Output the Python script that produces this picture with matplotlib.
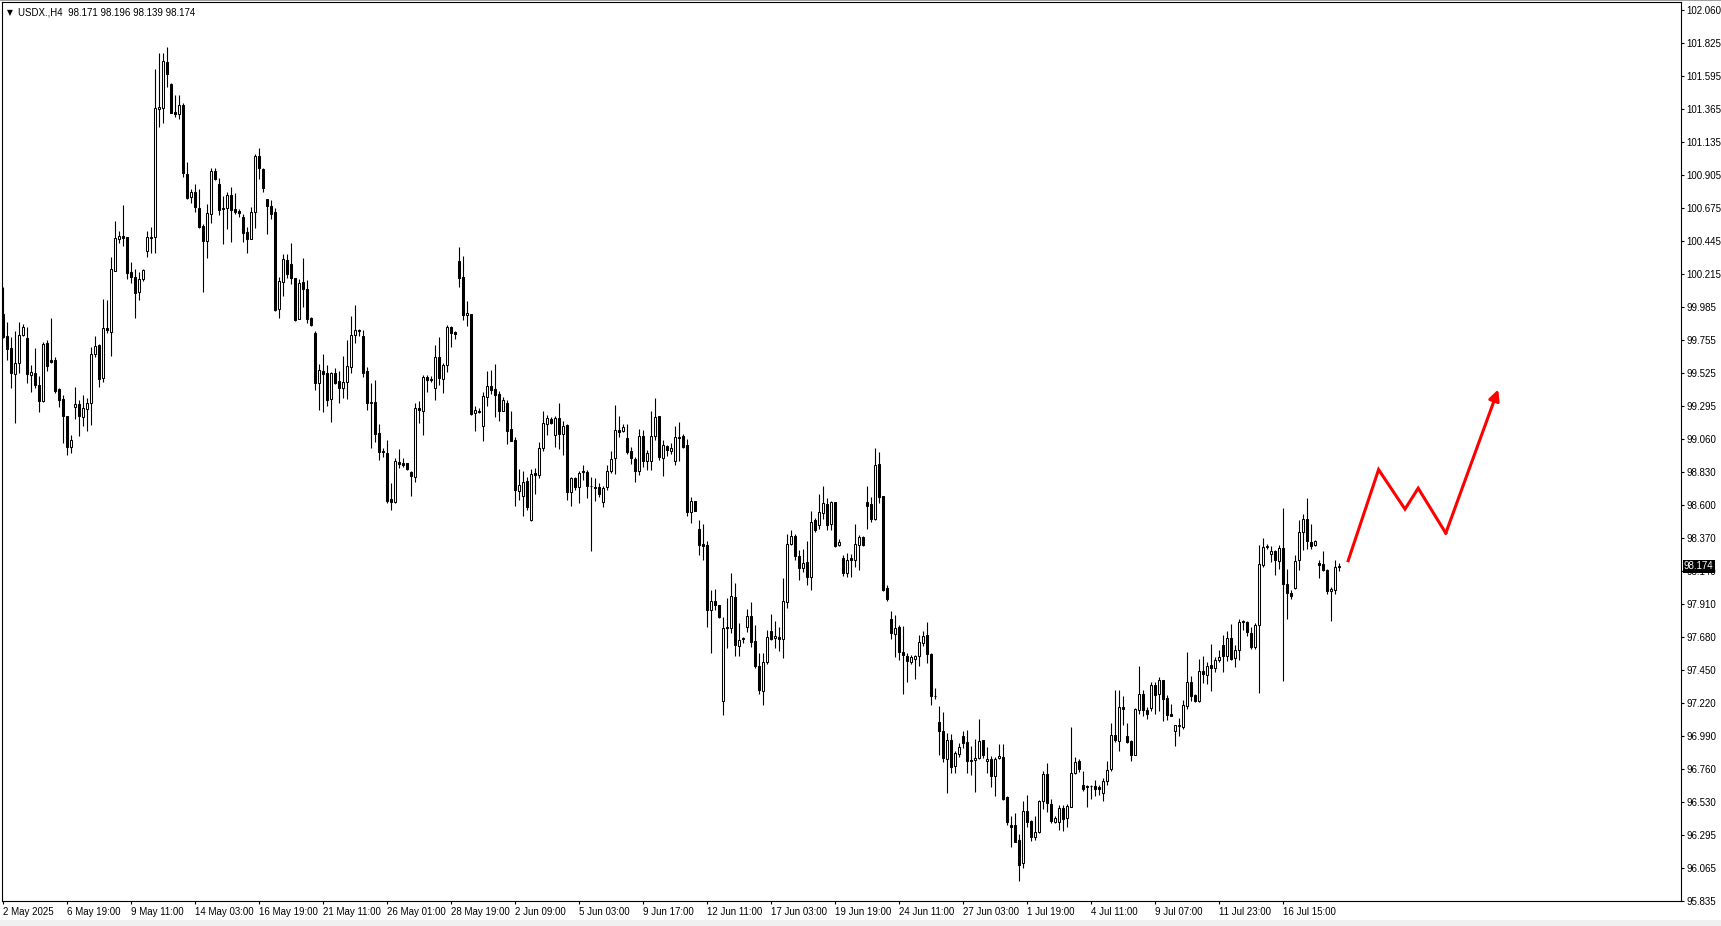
import numpy as np
import matplotlib
matplotlib.use("Agg")
import matplotlib.pyplot as plt
import matplotlib.transforms as mtransforms
from matplotlib.patches import Rectangle

plt.rcParams['font.family'] = ['Liberation Sans', 'DejaVu Sans']

#
# USDX H4 CANDLES
#
opens = [
    99.936, 99.783, 99.697, 99.515, 99.592, 99.790, 99.766, 99.508, 99.527, 99.441,
    99.331, 99.732, 99.613, 99.615, 99.413, 99.340, 99.224, 99.010, 99.289, 99.308,
    99.219, 99.270, 99.312, 99.655, 99.720, 99.492, 99.836, 99.813, 100.239, 100.463,
    100.479, 100.477, 100.227, 100.192, 100.088, 100.178, 100.379, 100.472, 100.477, 101.368,
    101.373, 101.694, 101.543, 101.350, 101.333, 101.394, 100.912, 100.756, 100.791, 100.674,
    100.554, 100.447, 100.633, 100.936, 100.842, 100.679, 100.675, 100.768, 100.670, 100.654,
    100.614, 100.510, 100.463, 100.652, 101.043, 100.950, 100.740, 100.691, 100.649, 99.969,
    100.163, 100.314, 100.286, 100.186, 99.900, 100.163, 100.111, 99.910, 99.806, 99.453,
    99.539, 99.527, 99.341, 99.527, 99.469, 99.418, 99.464, 99.569, 99.790, 99.814,
    99.783, 99.539, 99.322, 99.322, 99.103, 98.980, 98.964, 98.645, 98.620, 98.899,
    98.894, 98.894, 98.831, 98.797, 99.281, 99.255, 99.495, 99.481, 99.418, 99.635,
    99.481, 99.579, 99.844, 99.807, 100.307, 100.193, 99.926, 99.935, 99.241, 99.258,
    99.157, 99.355, 99.432, 99.413, 99.376, 99.260, 99.316, 99.132, 99.057, 98.703,
    98.662, 98.766, 98.499, 98.827, 98.808, 98.999, 99.167, 99.202, 99.090, 99.213,
    99.099, 99.162, 98.696, 98.790, 98.724, 98.840, 98.833, 98.736, 98.726, 98.726,
    98.621, 98.724, 98.836, 98.929, 99.127, 99.122, 99.068, 98.980, 98.924, 98.836,
    99.085, 98.912, 98.912, 99.087, 99.224, 98.933, 99.015, 98.982, 98.912, 99.080,
    99.085, 99.022, 98.556, 98.631, 98.435, 98.326, 98.319, 97.869, 97.932, 97.904,
    97.229, 97.748, 97.739, 97.958, 97.620, 97.674, 97.748, 97.828, 97.653, 97.474,
    97.299, 97.502, 97.723, 97.670, 97.679, 97.665, 97.921, 98.331, 98.387, 98.247,
    98.165, 98.200, 98.098, 98.498, 98.463, 98.545, 98.608, 98.468, 98.622, 98.319,
    98.231, 98.126, 98.231, 98.219, 98.324, 98.377, 98.622, 98.610, 98.503, 98.887,
    98.666, 98.021, 97.805, 97.700, 97.749, 97.574, 97.548, 97.502, 97.525, 97.544,
    97.637, 97.695, 97.562, 97.264, 97.085, 97.025, 96.827, 96.962, 96.776, 96.865,
    96.986, 96.946, 96.823, 96.818, 96.834, 96.962, 96.811, 96.830, 96.706, 96.834,
    96.844, 96.560, 96.369, 96.364, 96.264, 96.101, 96.466, 96.397, 96.280, 96.315,
    96.532, 96.725, 96.513, 96.385, 96.387, 96.485, 96.415, 96.490, 96.730, 96.816,
    96.648, 96.641, 96.636, 96.636, 96.632, 96.590, 96.671, 96.755, 96.997, 96.951,
    97.191, 96.990, 96.955, 96.853, 97.172, 97.281, 97.172, 97.183, 97.346, 97.281,
    97.381, 97.253, 97.144, 97.020, 97.055, 97.048, 97.195, 97.365, 97.276, 97.230,
    97.444, 97.411, 97.486, 97.463, 97.516, 97.625, 97.544, 97.672, 97.532, 97.586,
    97.784, 97.784, 97.707, 97.607, 97.765, 98.180, 98.308, 98.259, 98.277, 98.212,
    98.301, 98.049, 97.986, 98.021, 98.215, 98.412, 98.503, 98.343, 98.324, 98.196,
    98.189, 98.149, 97.998, 98.005, 98.171,
]

highs = [
    100.127, 99.883, 99.778, 99.818, 99.883, 99.867, 99.848, 99.580, 99.697, 99.503,
    99.743, 99.755, 99.911, 99.634, 99.417, 99.371, 99.224, 99.091, 99.429, 99.336,
    99.371, 99.347, 99.708, 99.783, 99.727, 100.039, 100.034, 100.337, 100.586, 100.518,
    100.698, 100.477, 100.302, 100.248, 100.232, 100.253, 100.516, 100.542, 101.645, 101.757,
    101.762, 101.803, 101.552, 101.466, 101.466, 101.408, 100.996, 100.809, 100.844, 100.809,
    100.563, 100.703, 100.954, 100.954, 100.889, 100.763, 100.787, 100.822, 100.780, 100.670,
    100.633, 100.547, 100.686, 101.052, 101.099, 100.954, 100.740, 100.733, 100.679, 100.198,
    100.356, 100.356, 100.435, 100.191, 100.179, 100.330, 100.174, 99.917, 99.818, 99.585,
    99.655, 99.581, 99.534, 99.557, 99.539, 99.644, 99.755, 99.923, 100.000, 99.832,
    99.825, 99.569, 99.457, 99.476, 99.166, 98.999, 99.057, 98.755, 98.929, 98.992,
    98.929, 98.894, 98.841, 99.313, 99.330, 99.511, 99.511, 99.500, 99.721, 99.774,
    99.597, 99.860, 99.849, 99.814, 100.403, 100.342, 100.028, 99.935, 99.290, 99.278,
    99.390, 99.539, 99.546, 99.588, 99.395, 99.353, 99.337, 99.260, 99.074, 98.852,
    98.836, 98.794, 98.852, 98.859, 99.041, 99.260, 99.232, 99.220, 99.225, 99.313,
    99.190, 99.167, 98.794, 98.794, 98.841, 98.882, 98.847, 98.794, 98.789, 98.754,
    98.731, 98.882, 98.982, 99.301, 99.224, 99.166, 99.169, 99.006, 98.940, 99.131,
    99.127, 98.987, 99.259, 99.348, 99.224, 99.057, 99.022, 99.038, 99.155, 99.180,
    99.099, 99.061, 98.661, 98.631, 98.498, 98.470, 98.347, 98.009, 98.016, 97.904,
    97.818, 97.951, 98.126, 98.060, 97.776, 97.679, 97.874, 97.923, 97.765, 97.567,
    97.567, 97.730, 97.842, 97.788, 97.746, 98.091, 98.401, 98.428, 98.401, 98.289,
    98.293, 98.352, 98.563, 98.510, 98.680, 98.736, 98.650, 98.633, 98.626, 98.363,
    98.254, 98.265, 98.258, 98.470, 98.389, 98.382, 98.731, 98.657, 98.999, 98.969,
    98.666, 98.044, 97.863, 97.830, 97.765, 97.758, 97.567, 97.555, 97.555, 97.695,
    97.718, 97.784, 97.567, 97.323, 97.199, 97.155, 97.008, 97.004, 96.880, 96.939,
    97.025, 97.032, 96.920, 96.969, 97.109, 96.962, 96.909, 96.846, 96.839, 96.932,
    96.932, 96.567, 96.427, 96.450, 96.304, 96.536, 96.574, 96.399, 96.432, 96.539,
    96.741, 96.799, 96.550, 96.427, 96.508, 96.508, 96.513, 97.049, 96.839, 96.830,
    96.746, 96.648, 96.648, 96.683, 96.643, 96.695, 96.811, 97.079, 97.312, 97.312,
    97.270, 97.079, 96.962, 97.184, 97.479, 97.312, 97.188, 97.362, 97.362, 97.397,
    97.381, 97.276, 97.211, 97.067, 97.113, 97.241, 97.574, 97.409, 97.283, 97.528,
    97.549, 97.504, 97.632, 97.539, 97.591, 97.695, 97.719, 97.770, 97.626, 97.805,
    97.800, 97.793, 97.749, 97.777, 98.324, 98.370, 98.331, 98.317, 98.289, 98.324,
    98.580, 98.154, 98.010, 98.254, 98.498, 98.540, 98.650, 98.471, 98.359, 98.219,
    98.282, 98.156, 98.028, 98.219, 98.196,
]

lows = [
    99.766, 99.615, 99.417, 99.177, 99.522, 99.783, 99.457, 99.394, 99.417, 99.254,
    99.324, 99.541, 99.592, 99.382, 99.289, 99.038, 98.952, 98.968, 99.201, 99.084,
    99.154, 99.122, 99.161, 99.638, 99.424, 99.464, 99.801, 99.643, 100.239, 100.435,
    100.414, 100.181, 100.155, 99.906, 100.034, 100.169, 100.332, 100.360, 100.360, 101.240,
    101.273, 101.524, 101.338, 101.315, 101.301, 100.891, 100.742, 100.714, 100.651, 100.535,
    100.088, 100.330, 100.570, 100.873, 100.628, 100.423, 100.528, 100.437, 100.633, 100.617,
    100.442, 100.361, 100.463, 100.535, 100.877, 100.787, 100.498, 100.598, 99.960, 99.907,
    100.065, 100.191, 100.144, 99.890, 99.900, 99.988, 99.872, 99.855, 99.406, 99.266,
    99.250, 99.290, 99.180, 99.446, 99.313, 99.348, 99.343, 99.522, 99.732, 99.779,
    99.499, 99.266, 98.999, 99.041, 98.917, 98.934, 98.615, 98.568, 98.615, 98.859,
    98.864, 98.848, 98.662, 98.759, 99.174, 99.092, 99.388, 99.458, 99.332, 99.437,
    99.381, 99.534, 99.709, 99.760, 100.124, 99.891, 99.853, 99.232, 99.122, 99.241,
    99.046, 99.290, 99.376, 99.220, 99.190, 99.255, 99.027, 99.046, 98.592, 98.638,
    98.522, 98.568, 98.492, 98.680, 98.790, 98.976, 99.092, 99.167, 99.004, 98.992,
    98.953, 98.638, 98.592, 98.708, 98.615, 98.777, 98.654, 98.277, 98.633, 98.661,
    98.591, 98.708, 98.824, 98.817, 99.080, 99.115, 98.959, 98.889, 98.759, 98.812,
    98.864, 98.847, 98.843, 99.057, 98.917, 98.805, 98.945, 98.959, 98.882, 98.906,
    98.999, 98.526, 98.475, 98.561, 98.249, 98.214, 97.746, 97.567, 97.869, 97.811,
    97.136, 97.602, 97.707, 97.544, 97.544, 97.641, 97.711, 97.613, 97.462, 97.283,
    97.206, 97.492, 97.660, 97.602, 97.579, 97.532, 97.881, 98.324, 98.214, 98.079,
    98.137, 98.044, 98.005, 98.410, 98.433, 98.503, 98.428, 98.424, 98.307, 98.312,
    98.107, 98.098, 98.098, 98.168, 98.149, 98.317, 98.433, 98.482, 98.498, 98.615,
    97.998, 97.928, 97.667, 97.539, 97.516, 97.283, 97.362, 97.493, 97.388, 97.474,
    97.614, 97.497, 97.206, 97.246, 96.857, 96.804, 96.589, 96.729, 96.729, 96.839,
    96.904, 96.730, 96.718, 96.595, 96.830, 96.834, 96.730, 96.629, 96.567, 96.830,
    96.543, 96.369, 96.210, 96.245, 95.978, 96.066, 96.350, 96.257, 96.264, 96.311,
    96.478, 96.457, 96.380, 96.380, 96.329, 96.327, 96.350, 96.490, 96.725, 96.737,
    96.601, 96.490, 96.548, 96.567, 96.578, 96.532, 96.648, 96.746, 96.946, 96.881,
    97.067, 96.939, 96.816, 96.853, 97.142, 97.125, 97.109, 97.160, 97.141, 97.160,
    97.090, 97.102, 97.125, 96.920, 96.985, 97.036, 97.178, 97.234, 97.225, 97.225,
    97.358, 97.353, 97.300, 97.432, 97.504, 97.432, 97.509, 97.516, 97.467, 97.521,
    97.730, 97.684, 97.598, 97.598, 97.288, 98.166, 98.294, 98.201, 98.110, 98.156,
    97.369, 97.805, 97.947, 98.017, 98.145, 98.284, 98.296, 98.296, 98.312, 98.091,
    98.138, 97.979, 97.788, 97.982, 98.139,
]

closes = [
    99.778, 99.690, 99.522, 99.592, 99.790, 99.848, 99.515, 99.529, 99.438, 99.331,
    99.727, 99.573, 99.601, 99.401, 99.336, 99.224, 99.010, 99.056, 99.308, 99.224,
    99.278, 99.312, 99.657, 99.713, 99.482, 99.836, 99.822, 100.248, 100.465, 100.479,
    100.470, 100.225, 100.192, 100.081, 100.178, 100.246, 100.472, 100.470, 101.373, 101.380,
    101.703, 101.610, 101.343, 101.333, 101.394, 100.919, 100.749, 100.791, 100.686, 100.546,
    100.447, 100.640, 100.936, 100.877, 100.666, 100.670, 100.768, 100.663, 100.652, 100.645,
    100.505, 100.463, 100.647, 101.043, 100.954, 100.819, 100.689, 100.638, 99.967, 100.167,
    100.321, 100.214, 100.191, 99.895, 100.153, 100.109, 99.900, 99.860, 99.453, 99.546,
    99.520, 99.336, 99.527, 99.453, 99.418, 99.464, 99.574, 99.790, 99.825, 99.823,
    99.527, 99.313, 99.313, 99.096, 98.971, 98.971, 98.633, 98.620, 98.911, 98.890,
    98.883, 98.852, 98.801, 99.278, 99.262, 99.495, 99.472, 99.472, 99.635, 99.488,
    99.581, 99.844, 99.802, 99.798, 100.191, 99.926, 99.942, 99.239, 99.264, 99.248,
    99.362, 99.432, 99.402, 99.367, 99.255, 99.337, 99.122, 99.050, 98.708, 98.738,
    98.762, 98.585, 98.817, 98.808, 98.999, 99.174, 99.209, 99.178, 99.213, 99.099,
    99.157, 98.696, 98.790, 98.729, 98.825, 98.829, 98.731, 98.731, 98.717, 98.680,
    98.719, 98.836, 98.924, 99.127, 99.115, 99.150, 98.975, 98.929, 98.836, 99.085,
    98.906, 98.968, 99.085, 99.220, 98.940, 99.022, 98.987, 99.003, 99.075, 99.073,
    99.010, 98.556, 98.631, 98.563, 98.319, 98.312, 97.869, 97.932, 97.904, 97.816,
    97.744, 97.741, 97.967, 97.625, 97.660, 97.665, 97.828, 97.644, 97.474, 97.306,
    97.504, 97.679, 97.665, 97.688, 97.667, 97.930, 98.328, 98.387, 98.242, 98.165,
    98.196, 98.102, 98.482, 98.424, 98.552, 98.615, 98.463, 98.626, 98.317, 98.342,
    98.126, 98.219, 98.219, 98.328, 98.377, 98.319, 98.598, 98.505, 98.882, 98.661,
    98.009, 97.947, 97.707, 97.742, 97.572, 97.551, 97.509, 97.539, 97.548, 97.644,
    97.684, 97.562, 97.264, 97.269, 97.020, 96.834, 96.962, 96.771, 96.869, 96.911,
    96.939, 96.811, 96.811, 96.834, 96.955, 96.858, 96.830, 96.706, 96.830, 96.851,
    96.550, 96.385, 96.350, 96.245, 96.089, 96.466, 96.385, 96.280, 96.318, 96.532,
    96.725, 96.520, 96.392, 96.415, 96.485, 96.408, 96.497, 96.730, 96.806, 96.758,
    96.620, 96.632, 96.641, 96.620, 96.620, 96.671, 96.751, 96.997, 96.958, 97.188,
    97.179, 96.946, 96.853, 97.177, 97.281, 97.167, 97.142, 97.346, 97.272, 97.381,
    97.246, 97.132, 97.130, 97.067, 97.067, 97.206, 97.362, 97.265, 97.230, 97.444,
    97.421, 97.479, 97.463, 97.521, 97.537, 97.544, 97.672, 97.528, 97.591, 97.784,
    97.788, 97.714, 97.607, 97.765, 98.191, 98.308, 98.312, 98.282, 98.214, 98.301,
    98.049, 97.986, 97.968, 98.212, 98.412, 98.503, 98.347, 98.317, 98.352, 98.180,
    98.149, 97.998, 98.017, 98.172, 98.174,
]

# time axis labels (one every 16 bars)
date_labels = ["2 May 2025", "6 May 19:00", "9 May 11:00", "14 May 03:00", "16 May 19:00",
               "21 May 11:00", "26 May 01:00", "28 May 19:00", "2 Jun 09:00", "5 Jun 03:00",
               "9 Jun 17:00", "12 Jun 11:00", "17 Jun 03:00", "19 Jun 19:00", "24 Jun 11:00",
               "27 Jun 03:00", "1 Jul 19:00", "4 Jul 11:00", "9 Jul 07:00", "11 Jul 23:00",
               "16 Jul 15:00"]

price_labels = ["95.835", "96.065", "96.295", "96.530", "96.760", "96.990", "97.220",
                "97.450", "97.680", "97.910", "98.140", "98.370", "98.600", "98.830",
                "99.060", "99.295", "99.525", "99.755", "99.985", "100.215", "100.445",
                "100.675", "100.905", "101.135", "101.365", "101.595", "101.825", "102.060"]

# red projection path (bar index, price)
path_x = [336.2, 343.8, 350.4, 353.7, 360.6, 373.7]
path_y = [98.213, 98.849, 98.573, 98.719, 98.405, 99.409]

last_price = 98.174


def main():
    W, H = 1721, 926
    fig = plt.figure(figsize=(W / 100, H / 100), dpi=100)
    fig.patch.set_facecolor('white')

    # axes box in pixels: x 2..1681, y 2..901
    ax = fig.add_axes([2 / W, (H - 901) / H, 1679 / W, 899 / H])

    o = np.array(opens)
    h = np.array(highs)
    l = np.array(lows)
    c = np.array(closes)
    x = np.arange(len(o))
    bull = c >= o

    # wicks
    ax.vlines(x, l, h, color='black', linewidth=0.8, zorder=1)
    # bodies
    bottoms = np.minimum(o, c)
    heights = np.maximum(np.abs(c - o), 0.0005)
    colors = np.where(bull, 'white', 'black')
    ax.bar(x, heights, bottom=bottoms, width=0.5, color=colors,
           edgecolor='black', linewidth=0.75, zorder=2)

    # red zigzag with arrow head
    ax.plot(path_x[:-1], path_y[:-1], color='red', linewidth=2.2,
            solid_joinstyle='miter', zorder=3)
    ax.annotate('', xy=(path_x[-1], path_y[-1]), xytext=(path_x[-2], path_y[-2]),
                arrowprops=dict(arrowstyle='-|>', color='red', lw=2.2,
                                mutation_scale=16, shrinkA=0, shrinkB=0),
                zorder=3)

    ax.set_xlim(-0.325, 419.4)
    ax.set_ylim(95.835, 102.116)

    # price scale on the right
    ax.yaxis.tick_right()
    ax.set_yticks(np.linspace(95.835, 102.060, len(price_labels)))
    ax.set_yticklabels(price_labels)
    ax.tick_params(axis='y', direction='out', length=2.5, width=0.8,
                   labelsize=7, pad=1.5, colors='black')

    ax.set_xticks(np.arange(len(date_labels)) * 16)
    ax.set_xticklabels(date_labels)
    ax.tick_params(axis='x', direction='out', length=2.5, width=0.8,
                   labelsize=7, pad=2, colors='black')
    for lab in ax.get_xticklabels():
        lab.set_ha('left')

    for s in ax.spines.values():
        s.set_color('black')
        s.set_linewidth(0.8)

    # current price box
    trans = mtransforms.blended_transform_factory(ax.transAxes, ax.transData)
    ax.text(1.0 + 3 / 1679, last_price, "98.174", transform=trans, ha='left',
            va='center', fontsize=7, color='white',
            bbox=dict(boxstyle='square,pad=0.15', fc='black', ec='none'),
            zorder=5, clip_on=False)

    # header
    fig.text(7 / W, 1 - 12.5 / H, "\u25bc", fontsize=5.5, va='center', ha='left',
             family=['DejaVu Sans'])
    fig.text(18 / W, 1 - 12.5 / H, "USDX.,H4  98.171 98.196 98.139 98.174",
             fontsize=7, va='center', ha='left')

    # window frame strips
    fig.patches.append(Rectangle((0, 0), 1, 6 / H, transform=fig.transFigure,
                                 facecolor='#f0f0f0', edgecolor='none', zorder=0))
    fig.patches.append(Rectangle((0, 1 - 1 / H), 1, 1 / H, transform=fig.transFigure,
                                 facecolor='#a0a0a0', edgecolor='none', zorder=0))

    fig.savefig('out.png', dpi=100)


if __name__ == "__main__":
    main()
